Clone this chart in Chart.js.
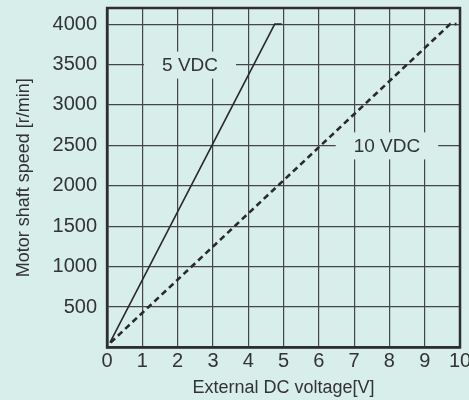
<!DOCTYPE html>
<html>
<head>
<meta charset="utf-8">
<script src="https://cdn.jsdelivr.net/npm/chart.js@4.4.0/dist/chart.umd.min.js"></script>
<style>
  html, body { margin: 0; padding: 0; background: #d8eeeb; }
  #wrap { width: 469px; height: 400px; }
</style>
</head>
<body>
<div id="wrap"><canvas id="myChart" width="469" height="400"></canvas></div>
<script>
// speed curves: [voltage, speed]
var volts5 = [0.08, 4.75, 4.95];
var speed5 = [60, 4000, 4000];
var volts10 = [0.1, 9.72, 9.9];
var speed10 = [60, 4000, 4000];

var xTicks = [0, 1, 2, 3, 4, 5, 6, 7, 8, 9, 10];
var yTicks = [500, 1000, 1500, 2000, 2500, 3000, 3500, 4000];

// in-plot labels, placed in data units
var noteTexts = ['5 VDC', '10 VDC'];
var noteX = [2.35, 7.93];
var noteY = [3500, 2500];

var bg = '#d8eeeb';
var ink = '#333333';
var font = "'Liberation Sans', Arial, sans-serif";

function toPoints(xs, ys) {
    return xs.map((x, i) => ({ x: x, y: ys[i] }));
}

// draws the curve labels with a box that hides the grid behind them
var notesPlugin = {
    id: 'notes',
    beforeDatasetsDraw(chart) {
        var ctx = chart.ctx;
        var xs = chart.scales.x, ys = chart.scales.y;
        ctx.save();
        ctx.font = '19px ' + font;
        ctx.textAlign = 'center';
        ctx.textBaseline = 'middle';
        noteTexts.forEach((t, i) => {
            var px = xs.getPixelForValue(noteX[i]);
            var py = ys.getPixelForValue(noteY[i]);
            var w = ctx.measureText(t).width + 36;
            ctx.fillStyle = bg;
            ctx.fillRect(px - w / 2, py - 13, w, 27);
            ctx.fillStyle = ink;
            ctx.fillText(t, px, py + 1);
        });
        ctx.restore();
    },
    // closed frame round the plot area
    afterDraw(chart) {
        var a = chart.chartArea;
        var ctx = chart.ctx;
        ctx.save();
        ctx.strokeStyle = '#2e2e2e';
        ctx.lineWidth = 2.5;
        ctx.strokeRect(a.left, a.top, a.right - a.left, a.bottom - a.top);
        ctx.restore();
    }
};

new Chart(document.getElementById('myChart').getContext('2d'), {
    type: 'scatter',
    data: {
        datasets: [{
            label: '5 VDC',
            data: toPoints(volts5, speed5),
            showLine: true,
            borderColor: '#2a2a2a',
            borderWidth: 1.6,
            pointRadius: 0,
            tension: 0
        }, {
            label: '10 VDC',
            data: toPoints(volts10, speed10),
            showLine: true,
            borderColor: '#2a2a2a',
            borderWidth: 2.6,
            borderDash: [6, 4],
            pointRadius: 0,
            tension: 0
        }]
    },
    options: {
        responsive: false,
        animation: false,
        layout: { padding: { top: 8, right: 9, left: 13, bottom: 0 } },
        plugins: {
            legend: { display: false },
            tooltip: { enabled: false }
        },
        scales: {
            x: {
                type: 'linear',
                min: 0,
                max: 10,
                afterBuildTicks: s => { s.ticks = xTicks.map(v => ({ value: v })); },
                afterFit: s => { s.paddingLeft = 0; s.paddingRight = 0; },
                grid: { color: '#454545', lineWidth: 1.2, drawTicks: false },
                border: { color: '#2e2e2e', width: 2.5 },
                ticks: { color: ink, font: { family: font, size: 20, lineHeight: 1 }, padding: 4, maxRotation: 0, callback: v => String(v) },
                title: { display: true, text: 'External DC voltage[V]', color: ink, font: { family: font, size: 18 }, padding: { top: 2, bottom: 1 } }
            },
            y: {
                min: 0,
                max: 4200,
                afterBuildTicks: s => { s.ticks = yTicks.map(v => ({ value: v })); },
                afterFit: s => { s.paddingTop = 0; s.paddingBottom = 0; },
                grid: { color: '#454545', lineWidth: 1.2, drawTicks: false },
                border: { color: '#2e2e2e', width: 2.5 },
                ticks: { color: ink, font: { family: font, size: 20, lineHeight: 1 }, padding: 10, callback: v => String(v) },
                title: { display: true, text: 'Motor shaft speed [r/min]', color: ink, font: { family: font, size: 18 }, padding: { top: 0, bottom: 8 } }
            }
        }
    },
    plugins: [notesPlugin]
});
</script>
</body>
</html>
